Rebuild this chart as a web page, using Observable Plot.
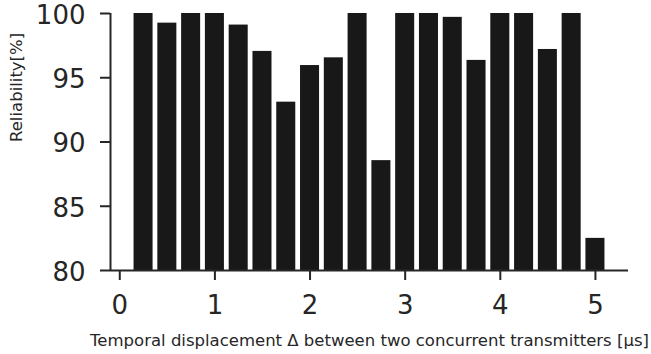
<!DOCTYPE html>
<html>
<head>
<meta charset="utf-8">
<script src="https://cdn.jsdelivr.net/npm/d3@7"></script>
<script src="https://cdn.jsdelivr.net/npm/@observablehq/plot@0.6"></script>
<style>
  html, body { margin: 0; padding: 0; background: #ffffff; }
</style>
</head>
<body>
<div id="chart"></div>
<script>
// Temporal displacement (µs) — bar centres
const displacements = [0.25, 0.5, 0.75, 1.0, 1.25, 1.5, 1.75, 2.0, 2.25, 2.5,
                       2.75, 3.0, 3.25, 3.5, 3.75, 4.0, 4.25, 4.5, 4.75, 5.0];
// Reliability (%)
const reliability = [100, 99.25, 100, 100, 99.1, 97.05, 93.1, 95.95, 96.55, 100,
                     88.55, 100, 100, 99.7, 96.35, 100, 100, 97.2, 100, 82.5];
const xTicks = [0, 1, 2, 3, 4, 5];
const yTicks = [80, 85, 90, 95, 100];
const xLabel = "Temporal displacement Δ between two concurrent transmitters [µs]";
const yLabel = "Reliability[%]";

const barWidth = 0.2;
const xDomain = [-0.0975, 5.3475];
const yDomain = [80, 100];

const data = displacements.map((x, i) => ({x, value: reliability[i]}));
const ink = "#262626";
const fmt = d => String(d);

const chart = Plot.plot({
  width: 651,
  height: 354,
  marginLeft: 110,
  marginRight: 23,
  marginTop: 13,
  marginBottom: 84,
  x: {domain: xDomain},
  y: {domain: yDomain},
  style: {fontFamily: "DejaVu Sans", background: "#ffffff", color: ink, overflow: "visible"},
  marks: [
    Plot.rectY(data, {
      x1: d => d.x - barWidth / 2,
      x2: d => d.x + barWidth / 2,
      y1: yDomain[0],
      y2: "value",
      fill: "#181818"
    }),
    // y ticks (lines only)
    Plot.axisY({ticks: yTicks, tickSize: 10, strokeWidth: 2, stroke: ink, fill: "none", label: null}),
    // y tick labels (text only)
    Plot.axisY({ticks: yTicks, tickSize: 0, tickPadding: 25, fontSize: 26, fill: ink, dy: 2, tickFormat: fmt, label: null}),
    Plot.axisX({ticks: xTicks, tickSize: 10, tickPadding: 15, fontSize: 26, strokeWidth: 2, stroke: ink, fill: ink, tickFormat: fmt, label: null}),
    Plot.ruleX([xDomain[0]], {y1: yDomain[0], y2: yDomain[1], strokeWidth: 2, stroke: ink}),
    Plot.ruleY([yDomain[0]], {strokeWidth: 2, stroke: ink}),
    Plot.text([xLabel], {frameAnchor: "bottom", dy: 70, fontSize: 16.5, fill: ink, lineAnchor: "middle"}),
    Plot.text([yLabel], {frameAnchor: "left", dx: -94, rotate: -90, fontSize: 16.5, fill: ink, lineAnchor: "middle"})
  ]
});
document.getElementById("chart").appendChild(chart);
</script>
</body>
</html>
